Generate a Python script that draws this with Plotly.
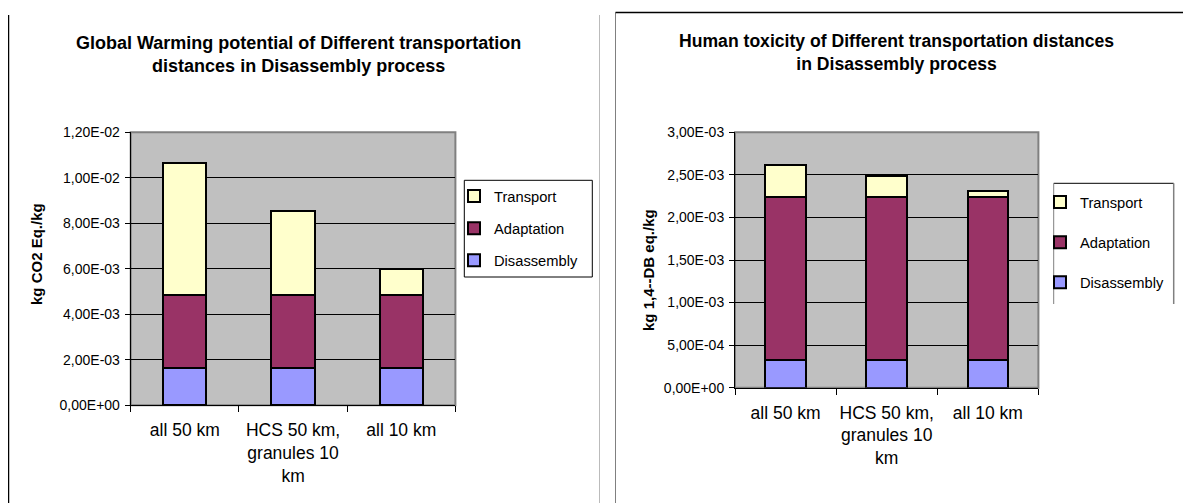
import plotly.graph_objects as go

# ---------------- data ----------------
categories = ["all 50 km", "HCS 50 km,<br>granules 10<br>km", "all 10 km"]
series_names = ["Disassembly", "Adaptation", "Transport"]
legend_ranks = [3, 2, 1]

gwp_disassembly = [1.63e-3, 1.63e-3, 1.63e-3]
gwp_adaptation = [3.23e-3, 3.23e-3, 3.23e-3]
gwp_transport = [5.80e-3, 3.68e-3, 1.14e-3]

htp_disassembly = [3.25e-4, 3.25e-4, 3.25e-4]
htp_adaptation = [1.92e-3, 1.92e-3, 1.92e-3]
htp_transport = [3.75e-4, 2.42e-4, 6.6e-5]

gwp_tickvals = [0, 2e-3, 4e-3, 6e-3, 8e-3, 10e-3, 12e-3]
gwp_ticktext = ["0,00E+00", "2,00E-03", "4,00E-03", "6,00E-03", "8,00E-03", "1,00E-02", "1,20E-02"]
htp_tickvals = [0, 5e-4, 1e-3, 1.5e-3, 2e-3, 2.5e-3, 3e-3]
htp_ticktext = ["0,00E+00", "5,00E-04", "1,00E-03", "1,50E-03", "2,00E-03", "2,50E-03", "3,00E-03"]

gwp_title = ["Global Warming potential of Different transportation", "distances in Disassembly process"]
htp_title = ["Human toxicity of Different transportation distances", "in Disassembly process"]
gwp_ytitle = "kg CO2 Eq./kg"
htp_ytitle = "kg 1,4--DB eq./kg"

colors = {"Disassembly": "#9999FF", "Adaptation": "#993366", "Transport": "#FFFFCC"}

# ---------------- layout helpers ----------------
# The page body has an 8px margin, so the figure starts at (8, 8) in the window.
OFF = 8
W, H = 1191 - OFF, 503 - OFF
FONT = "Liberation Sans, Arial, sans-serif"


def px(x):
    return (x - OFF) / W


def py(y):
    return 1 - (y - OFF) / H


fig = go.Figure()

left_vals = {"Disassembly": gwp_disassembly, "Adaptation": gwp_adaptation, "Transport": gwp_transport}
right_vals = {"Disassembly": htp_disassembly, "Adaptation": htp_adaptation, "Transport": htp_transport}

for name, rank in zip(series_names, legend_ranks):
    fig.add_trace(go.Bar(
        x=categories, y=left_vals[name], name=name, xaxis="x", yaxis="y",
        marker=dict(color=colors[name], line=dict(color="black", width=2)),
        width=0.4, legend="legend", legendgroup="L" + name, legendrank=rank,
    ))
for name, rank in zip(series_names, legend_ranks):
    fig.add_trace(go.Bar(
        x=categories, y=right_vals[name], name=name, xaxis="x2", yaxis="y2",
        marker=dict(color=colors[name], line=dict(color="black", width=2)),
        width=0.4, legend="legend2", legendgroup="R" + name, legendrank=rank,
    ))

xaxis_common = dict(
    type="category", range=[-0.5, 2.5], tickson="boundaries", ticks="outside",
    ticklen=6, tickcolor="black", tickwidth=1, showline=True, linecolor="black",
    linewidth=1, showgrid=False, zeroline=False, tickangle=0, automargin=False,
    tickfont=dict(family=FONT, size=17.5, color="black"), ticklabelstandoff=9,
)
yaxis_common = dict(
    ticks="outside", ticklen=5, tickcolor="black", tickwidth=1, showline=True,
    linecolor="black", linewidth=1, showgrid=True, gridcolor="black", gridwidth=1,
    zeroline=False, automargin=False, tickfont=dict(family=FONT, size=14, color="black"),
    ticklabelstandoff=2,
)

fig.update_layout(
    template="none",
    width=W, height=H, autosize=False,
    margin=dict(l=0, r=0, t=0, b=0, pad=0, autoexpand=False),
    paper_bgcolor="white", plot_bgcolor="#C0C0C0",
    barmode="stack", bargap=0.6,
    font=dict(family=FONT, color="black"),
    xaxis=dict(domain=[px(130.7), px(455.4)], anchor="y", **xaxis_common),
    yaxis=dict(domain=[py(405.3), py(132.3)], anchor="x", range=[0, 12e-3],
               tickvals=gwp_tickvals, ticktext=gwp_ticktext, **yaxis_common),
    xaxis2=dict(domain=[px(735), px(1038.4)], anchor="y2", **xaxis_common),
    yaxis2=dict(domain=[py(387.7), py(132.3)], anchor="x2", range=[0, 3e-3],
                tickvals=htp_tickvals, ticktext=htp_ticktext, **yaxis_common),
    legend=dict(x=px(454), y=py(180), xanchor="left", yanchor="top",
                traceorder="grouped", tracegroupgap=10,
                bgcolor="rgba(0,0,0,0)", borderwidth=0,
                font=dict(family=FONT, size=14.7, color="black")),
    legend2=dict(x=px(1040), y=py(186), xanchor="left", yanchor="top",
                 traceorder="grouped", tracegroupgap=18,
                 bgcolor="rgba(0,0,0,0)", borderwidth=0,
                 font=dict(family=FONT, size=14.7, color="black")),
    showlegend=True,
)

# titles
fig.add_annotation(x=px(298.5), y=py(55), xref="paper", yref="paper",
                   text="<br>".join("<b>" + s + "</b>" for s in gwp_title),
                   showarrow=False, xanchor="center", yanchor="middle",
                   font=dict(family=FONT, size=18, color="black"), align="center")
fig.add_annotation(x=px(896), y=py(52.5), xref="paper", yref="paper",
                   text="<br>".join("<b>" + s + "</b>" for s in htp_title),
                   showarrow=False, xanchor="center", yanchor="middle",
                   font=dict(family=FONT, size=17.6, color="black"), align="center")

# y-axis titles
fig.add_annotation(x=px(36), y=py(254), xref="paper", yref="paper", text="<b>" + gwp_ytitle + "</b>",
                   showarrow=False, textangle=-90, xanchor="center", yanchor="middle",
                   font=dict(family=FONT, size=15, color="black"))
fig.add_annotation(x=px(648), y=py(270), xref="paper", yref="paper", text="<b>" + htp_ytitle + "</b>",
                   showarrow=False, textangle=-90, xanchor="center", yanchor="middle",
                   font=dict(family=FONT, size=15, color="black"))

shapes = []
# plot area frames (gray)
shapes.append(dict(type="rect", xref="paper", yref="paper", x0=px(130.7), x1=px(455.4),
                   y0=py(405.3), y1=py(132.3), line=dict(color="#808080", width=2), layer="below"))
shapes.append(dict(type="rect", xref="paper", yref="paper", x0=px(735), x1=px(1038.4),
                   y0=py(387.7), y1=py(132.3), line=dict(color="#808080", width=2), layer="below"))
# legend frames
shapes.append(dict(type="rect", xref="paper", yref="paper", x0=px(464.3), x1=px(592.3),
                   y0=py(277), y1=py(180.3), line=dict(color="black", width=1)))
shapes.append(dict(type="line", xref="paper", yref="paper", x0=px(1053.7), x1=px(1173.7),
                   y0=py(183.3), y1=py(183.3), line=dict(color="black", width=1)))
shapes.append(dict(type="line", xref="paper", yref="paper", x0=px(1053.7), x1=px(1053.7),
                   y0=py(183.3), y1=py(304), line=dict(color="#808080", width=1)))
shapes.append(dict(type="line", xref="paper", yref="paper", x0=px(1173.7), x1=px(1173.7),
                   y0=py(183.3), y1=py(304), line=dict(color="#808080", width=1.5)))
# chart frames
shapes.append(dict(type="line", xref="paper", yref="paper", x0=px(8.5), x1=px(8.5),
                   y0=py(15), y1=py(503), line=dict(color="black", width=1.5)))
shapes.append(dict(type="line", xref="paper", yref="paper", x0=px(599.5), x1=px(599.5),
                   y0=py(15), y1=py(503), line=dict(color="#BBBBBB", width=1)))
shapes.append(dict(type="line", xref="paper", yref="paper", x0=px(615.5), x1=px(615.5),
                   y0=py(12.5), y1=py(503), line=dict(color="#808080", width=1)))
shapes.append(dict(type="line", xref="paper", yref="paper", x0=px(615.5), x1=px(1189),
                   y0=py(12.5), y1=py(12.5), line=dict(color="black", width=1.5)))
shapes.append(dict(type="line", xref="paper", yref="paper", x0=px(1189), x1=px(1189),
                   y0=py(12.5), y1=py(503), line=dict(color="black", width=1.5)))
fig.update_layout(shapes=shapes)

fig.write_html("out.html")
